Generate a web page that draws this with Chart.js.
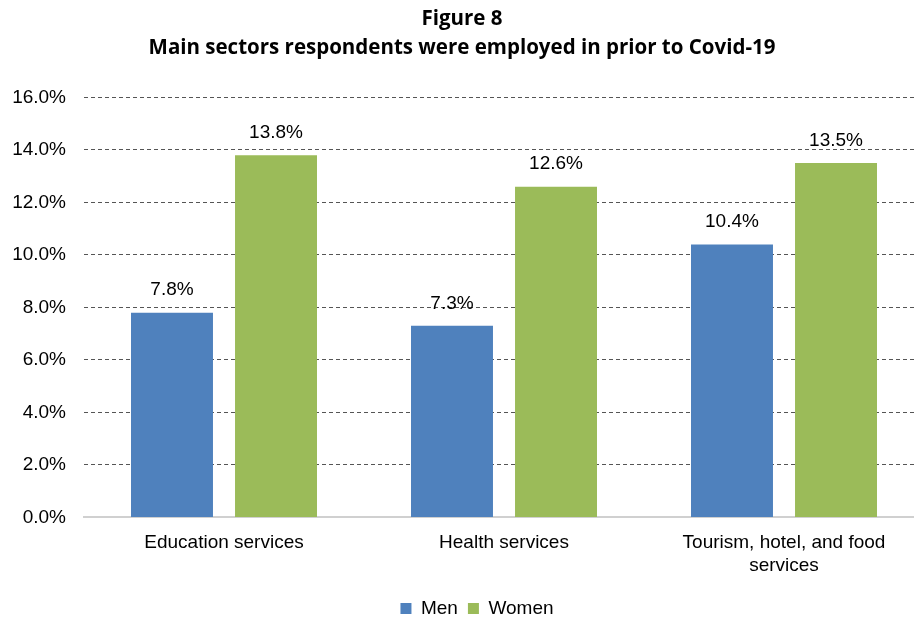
<!DOCTYPE html>
<html>
<head>
<meta charset="utf-8">
<script src="https://cdn.jsdelivr.net/npm/chart.js@4/dist/chart.umd.min.js"></script>
<style>
  html, body { margin: 0; padding: 0; background: #fff; overflow: hidden; }
  #wrap { width: 924px; height: 617px; }
</style>
</head>
<body>
<div id="wrap"><canvas id="chart"></canvas></div>
<script>
// sectors and shares (%)
const sectors = ['Education services', 'Health services', ['Tourism, hotel, and food', 'services']];
const men = [7.8, 7.3, 10.4];
const women = [13.8, 12.6, 13.5];
const yTicks = [0, 2, 4, 6, 8, 10, 12, 14, 16];

const axisFont = { family: '"Liberation Sans", Arial, sans-serif', size: 19 };

// value labels above each bar
const barLabels = {
  id: 'barLabels',
  afterDatasetsDraw(chart) {
    const ctx = chart.ctx;
    ctx.save();
    ctx.font = '19px "Liberation Sans", Arial, sans-serif';
    ctx.fillStyle = '#000';
    ctx.textAlign = 'center';
    ctx.textBaseline = 'bottom';
    chart.data.datasets.forEach((ds, i) => {
      chart.getDatasetMeta(i).data.forEach((bar, j) => {
        ctx.fillText(ds.data[j].toFixed(1) + '%', bar.x, bar.y - 13);
      });
    });
    ctx.restore();
  }
};

// nudge the legend a little to the right
const legendShift = {
  id: 'legendShift',
  afterLayout(chart) {
    chart.legend.left += 15;
    chart.legend.right += 15;
  }
};

new Chart(document.getElementById('chart'), {
  type: 'bar',
  data: {
    labels: sectors,
    datasets: [
      { label: 'Men', data: men, backgroundColor: '#4F81BD' },
      { label: 'Women', data: women, backgroundColor: '#9BBB59' }
    ]
  },
  options: {
    responsive: true,
    maintainAspectRatio: false,
    animation: false,
    layout: { padding: { left: 0, right: 0, top: 0, bottom: -11 } },
    datasets: {
      bar: { categoryPercentage: 0.743, barPercentage: 0.788 }
    },
    plugins: {
      title: {
        display: true,
        text: ['Figure 8', 'Main sectors respondents were employed in prior to Covid-19'],
        color: '#000',
        font: { family: '"Open Sans", sans-serif', size: 20.5, weight: 'bold', lineHeight: 1.45 },
        padding: { top: 4, bottom: 34 }
      },
      legend: {
        position: 'bottom',
        labels: {
          color: '#000',
          boxWidth: 11,
          boxHeight: 11,
          padding: 10,
          font: axisFont
        }
      },
      tooltip: { enabled: false }
    },
    scales: {
      x: {
        afterFit(axis) { axis.height += 6; },
        grid: { display: false },
        border: { color: '#d0d0d0', width: 2 },
        ticks: {
          color: '#000',
          padding: 6,
          maxRotation: 0,
          font: axisFont
        }
      },
      y: {
        min: 0,
        max: 16,
        afterBuildTicks(axis) { axis.ticks = yTicks.map(v => ({ value: v })); },
        afterFit(axis) { axis.width = 84; },
        grid: {
          color: ctx => ctx.tick.value === 0 ? 'rgba(0,0,0,0)' : '#555',
          lineWidth: 1,
          drawTicks: false
        },
        border: { display: false, dash: [4, 3] },
        ticks: {
          color: '#000',
          padding: 18,
          font: axisFont,
          callback: v => v.toFixed(1) + '%'
        }
      }
    }
  },
  plugins: [barLabels, legendShift]
});
</script>
</body>
</html>
